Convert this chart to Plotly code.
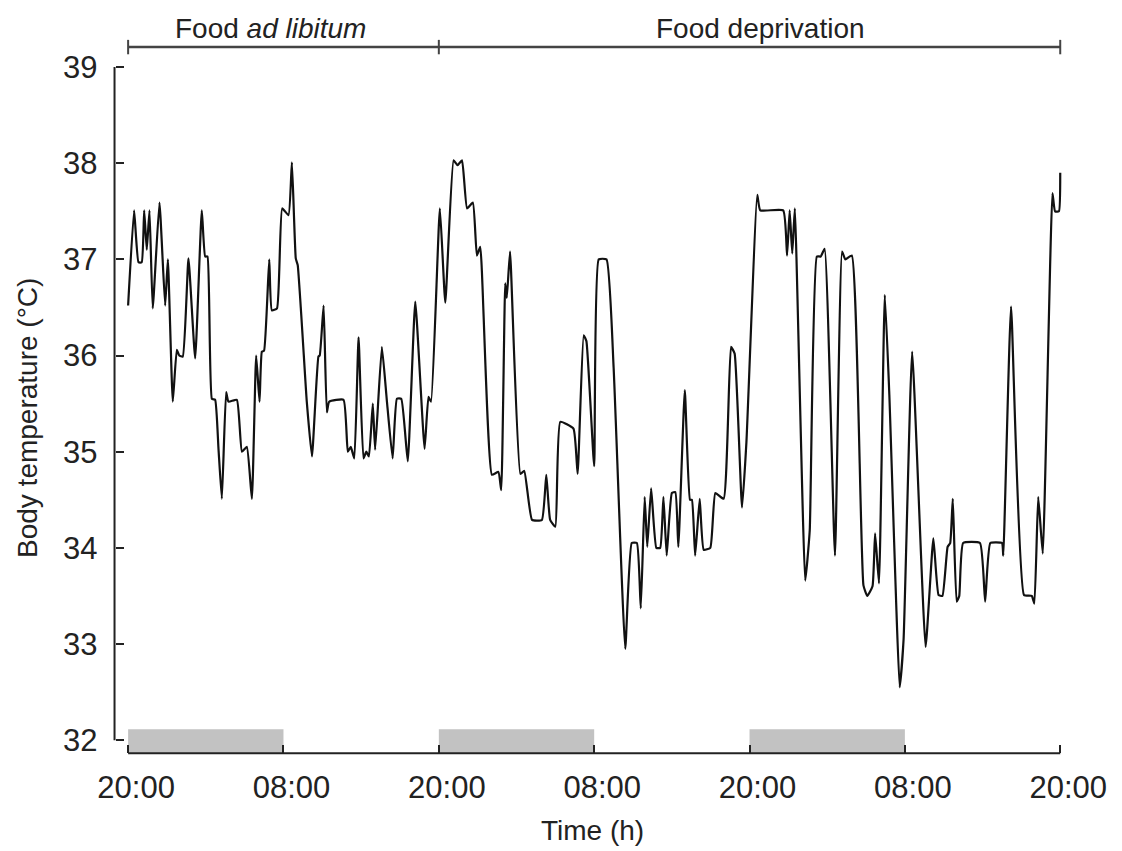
import plotly.graph_objects as go

# ---- data (time in hours from first 20:00, body temperature in °C) ----
time_h = [0, 0.46, 0.8, 1.05, 1.24, 1.44, 1.65, 1.9, 2.42, 2.86, 3.07, 3.45, 3.76, 3.95, 4.22,
          4.66, 5.18, 5.69, 5.95, 6.13, 6.47, 6.72, 6.98, 7.24, 7.57, 7.75, 8.4, 8.79, 9.17, 9.56,
          9.89, 10.15, 10.33, 10.5, 10.9, 11.1, 11.5, 11.9, 12.39, 12.65, 12.95, 13.1, 13.8, 14.2,
          14.7, 14.8, 15.1, 15.35, 15.53, 16.64, 16.97, 17.2, 17.47, 17.8, 18.18, 18.4, 18.6, 18.9,
          19.08, 19.6, 19.98, 20.43, 20.76, 21.1, 21.6, 22.18, 22.9, 23.2, 23.4, 24.08, 24.5, 25.14,
          25.45, 25.79, 26.18, 26.63, 26.94, 27.2, 28.1, 28.6, 28.82, 29.13, 29.25, 29.5, 30.3,
          30.6, 31.2, 31.96, 32.3, 32.6, 33.0, 33.38, 34.4, 34.72, 35.19, 35.4, 36.0, 36.35,
          36.95, 37.5, 38.4, 38.9, 39.3, 39.6, 39.9, 40.1, 40.4, 40.8, 41.1, 41.35, 41.6, 42.0,
          42.27, 42.5, 43.0, 43.4, 43.55, 43.8, 44.15, 44.46, 44.97, 45.36, 46.0, 46.57, 46.85,
          47.42, 47.76, 48.6, 48.83, 50.6, 50.9, 51.1, 51.3, 51.5, 52.3, 52.65, 53.2, 53.5, 53.8,
          54.6, 55.15, 55.4, 55.9, 56.8, 57.1, 57.5, 57.7, 58.0, 58.45, 58.8, 59.6, 59.9, 60.56,
          61.6, 62.2, 62.6, 62.9, 63.3, 63.5, 63.7, 64.0, 64.2, 64.5, 65.8, 66.2, 66.6, 67.5,
          67.6, 68.2, 69.2, 69.8, 70.0, 70.3, 70.65, 71.4, 71.6, 71.9, 72.0]
temp_c = [36.52, 37.51, 36.97, 36.97, 37.51, 37.1, 37.51, 36.49, 37.59, 36.52, 37.0, 35.52, 36.06, 36.0, 35.99,
          37.01, 35.97, 37.51, 37.03, 37.03, 35.55, 35.54, 35.03, 34.51, 35.62, 35.52, 35.54, 35.0, 35.05, 34.51,
          36.0, 35.52, 36.04, 36.05, 37.0, 36.47, 36.49, 37.53, 37.46, 38.01, 37.01, 36.94, 35.52, 34.95,
          35.99, 36.0, 36.52, 35.41, 35.52, 35.54, 35.0, 35.05, 34.93, 36.19, 34.93, 35.0, 34.95, 35.5,
          35.02, 36.09, 35.54, 34.93, 35.55, 35.55, 34.9, 36.56, 35.03, 35.57, 35.52, 37.53, 36.55, 38.03,
          37.98, 38.03, 37.53, 37.59, 37.04, 37.13, 34.76, 34.79, 34.6, 36.75, 36.6, 37.08, 34.77,
          34.8, 34.29, 34.29, 34.76, 34.29, 34.22, 35.31, 35.24, 34.77, 36.21, 36.15, 34.85, 37.0,
          37.0, 35.88, 32.95, 34.05, 34.05, 33.37, 34.53, 34.01, 34.62, 34.0, 34.0, 34.53, 33.92, 34.57,
          34.58, 34.01, 35.64, 34.5, 34.5, 33.92, 34.51, 33.98, 34.0, 34.57, 34.51, 36.09, 36.02,
          34.42, 35.1, 37.67, 37.51, 37.51, 37.04, 37.51, 37.06, 37.53, 33.66, 34.18, 37.03, 37.03, 37.11,
          33.92, 37.08, 37.0, 37.04, 33.61, 33.5, 33.6, 34.15, 33.63, 36.63, 35.59, 32.55, 33.05, 36.04,
          32.97, 34.1, 33.51, 33.5, 34.01, 34.05, 34.51, 33.44, 33.5, 34.05, 34.05, 33.44, 34.05, 34.05,
          33.92, 36.51, 33.51, 33.5, 33.42, 34.53, 33.94, 37.69, 37.5, 37.5, 37.9]

tick_hours = [0, 12, 24, 36, 48, 60, 72]
tick_labels = ["20:00", "08:00", "20:00", "08:00", "20:00", "08:00", "20:00"]
y_ticks = [32, 33, 34, 35, 36, 37, 38, 39]
dark_periods = [(0, 12), (24, 36), (48, 60)]
phase_bounds = [0, 24, 72]
phase_labels = ["Food <i>ad libitum</i>", "Food deprivation"]
phase_label_x = [10.97, 48.82]

# ---- layout geometry ----
W, H = 1122, 851
ML, MR, MT, MB = 110, 54, 19, 82
XR = [-1.4, 72.6]
YR = [31.7, 39.5]
AXIS_Y = 31.865     # detached x-axis baseline
BAR_TOP = 32.114
SPINE_X = -1.05
BRACKET_Y = 39.208
FONT = "Liberation Sans, Arial, Helvetica, sans-serif"
INK = "#222222"


def px2paper_x(px):
    return (px - ML) / (W - ML - MR)


def px2paper_y(py):
    return 1 - (py - MT) / (H - MT - MB)


fig = go.Figure()
fig.add_trace(go.Scatter(x=time_h, y=temp_c, mode="lines",
                         line=dict(color="#111111", width=2.2, shape="spline", smoothing=0.4),
                         showlegend=False, hoverinfo="skip"))

shapes = []
for a, b in dark_periods:
    shapes.append(dict(type="rect", xref="x", yref="y", x0=a, x1=b, y0=AXIS_Y, y1=BAR_TOP,
                       fillcolor="#c2c2c2", line=dict(width=0), layer="below"))
# x axis baseline
shapes.append(dict(type="line", xref="x", yref="y", x0=tick_hours[0], x1=tick_hours[-1],
                   y0=AXIS_Y, y1=AXIS_Y, line=dict(color=INK, width=2)))
# y spine
shapes.append(dict(type="line", xref="x", yref="y", x0=SPINE_X, x1=SPINE_X,
                   y0=y_ticks[0], y1=y_ticks[-1], line=dict(color=INK, width=2)))
# top bracket
shapes.append(dict(type="line", xref="x", yref="y", x0=phase_bounds[0], x1=phase_bounds[-1],
                   y0=BRACKET_Y, y1=BRACKET_Y, line=dict(color="#444444", width=2.5)))
for b in phase_bounds:
    shapes.append(dict(type="line", xref="x", yref="y", x0=b, x1=b,
                       y0=BRACKET_Y - 0.075, y1=BRACKET_Y + 0.075, line=dict(color="#444444", width=2)))

annotations = []
for lab, lx in zip(phase_labels, phase_label_x):
    annotations.append(dict(x=lx, y=39.405, xref="x", yref="y", text=lab, showarrow=False,
                            xanchor="center", yanchor="middle",
                            font=dict(family=FONT, size=28, color=INK)))
annotations.append(dict(x=px2paper_x(27), y=px2paper_y(418), xref="paper", yref="paper",
                        text="Body temperature (°C)", textangle=-90, showarrow=False,
                        xanchor="center", yanchor="middle",
                        font=dict(family=FONT, size=28, color=INK)))
annotations.append(dict(x=px2paper_x(592), y=px2paper_y(830), xref="paper", yref="paper",
                        text="Time (h)", showarrow=False, xanchor="center", yanchor="middle",
                        font=dict(family=FONT, size=28, color=INK)))

fig.update_layout(
    width=W, height=H, autosize=False,
    margin=dict(l=ML, r=MR, t=MT, b=MB),
    paper_bgcolor="white", plot_bgcolor="white",
    shapes=shapes, annotations=annotations,
    xaxis=dict(range=XR, anchor="free", position=(AXIS_Y - YR[0]) / (YR[1] - YR[0]),
               tickvals=tick_hours, ticktext=tick_labels, ticks="inside", ticklen=8,
               tickwidth=2, tickcolor=INK, showline=False, showgrid=False, zeroline=False,
               ticklabelstandoff=13, ticklabelshift=8,
               tickfont=dict(family=FONT, size=31, color=INK)),
    yaxis=dict(range=YR, anchor="free", position=px2paper_x(114.5),
               tickvals=y_ticks, ticks="inside", ticklen=8, tickwidth=2, tickcolor=INK,
               showline=False, showgrid=False, zeroline=False, ticklabelstandoff=17,
               tickfont=dict(family=FONT, size=31, color=INK)),
)

fig.write_html("out.html", config={"displayModeBar": False},
               post_script="document.body.style.margin='0';")
